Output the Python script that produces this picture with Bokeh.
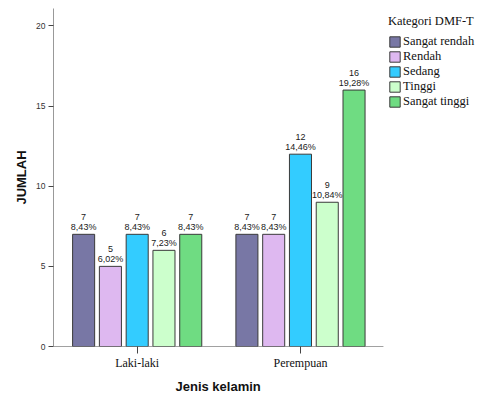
from bokeh.plotting import figure
from bokeh.models import ColumnDataSource, Legend, LegendItem, Range1d, FixedTicker, Title
from bokeh.core.properties import value
from bokeh.embed import file_html
from bokeh.resources import INLINE

# Counts of DMF-T category by sex
groups = ["Laki-laki", "Perempuan"]
categories = ["Sangat rendah", "Rendah", "Sedang", "Tinggi", "Sangat tinggi"]
laki_laki = [7, 5, 7, 6, 7]
perempuan = [7, 7, 12, 9, 16]
colors = ["#7877A5", "#DEB8F0", "#33CCFF", "#CCFFCC", "#6FDC82"]
y_ticks = [0, 5, 10, 15, 20]

counts = [laki_laki, perempuan]
total = sum(laki_laki) + sum(perempuan)

STEP = 0.164   # spacing between bars inside a group
WIDTH = 0.135  # bar width
X_START, X_AXIS_END, X_END = -0.5125, 1.508, 2.127  # axis stops short of the legend area

p = figure(width=484, height=397, output_backend="svg", toolbar_location=None,
           x_range=Range1d(X_START, X_END), y_range=Range1d(0, 21.09),
           min_border_left=53, min_border_right=0, min_border_top=8,
           min_border_bottom=50, outline_line_color=None)
p.grid.visible = False
p.background_fill_color = "white"
p.border_fill_color = "white"

# horizontal axis line, drawn only under the bar area
p.segment(x0=[X_START], y0=[0], x1=[X_AXIS_END], y1=[0], line_color="#444444", line_width=1)

legend_items = []
for ci, cat in enumerate(categories):
    xs = [gi + (ci - 2) * STEP for gi in range(len(groups))]
    ys = [counts[gi][ci] for gi in range(len(groups))]
    labels = [f"{v}\n{v / total * 100:.2f}".replace(".", ",") + "%" for v in ys]
    src = ColumnDataSource(dict(x=xs, top=ys, label=labels))
    r = p.vbar(x="x", top="top", width=WIDTH, bottom=0, source=src,
               fill_color=colors[ci], line_color="#3a3a3a", line_width=1)
    p.text(x="x", y="top", text="label", source=src, text_align="center",
           text_baseline="bottom", y_offset=-2, text_font=value("Liberation Sans"),
           text_font_size="9px", text_color="#1a1a1a", text_line_height=1.0)
    legend_items.append(LegendItem(label=cat, renderers=[r]))

# y axis
ya = p.yaxis[0]
ya.ticker = FixedTicker(ticks=y_ticks)
ya.axis_label = "JUMLAH"
ya.axis_label_text_font = "Liberation Sans"
ya.axis_label_text_font_style = "bold"
ya.axis_label_text_font_size = "13px"
ya.axis_label_text_color = "#111111"
ya.axis_label_standoff = 4
ya.major_label_text_font = "Liberation Sans"
ya.major_label_text_font_size = "8.5px"
ya.major_label_text_color = "#333333"
ya.major_label_standoff = 3
ya.major_tick_in = 0
ya.major_tick_out = 5
ya.minor_tick_line_color = None
ya.axis_line_color = "#999999"
ya.major_tick_line_color = "#444444"

# x axis
xa = p.xaxis[0]
xa.ticker = FixedTicker(ticks=[0, 1])
xa.major_label_overrides = {0: groups[0], 1: groups[1]}
xa.major_label_text_font = "Liberation Serif"
xa.major_label_text_font_size = "12px"
xa.major_label_text_color = "#111111"
xa.major_label_standoff = 2
xa.major_tick_in = 0
xa.major_tick_out = 7
xa.minor_tick_line_color = None
xa.axis_line_color = None
xa.major_tick_line_color = "#444444"

# x axis title, centred under the bar area rather than the whole frame
p.add_layout(Title(text="Jenis kelamin", align="left", offset=122, standoff=8,
                   text_font="Liberation Sans", text_font_style="bold",
                   text_font_size="13px", text_color="#111111"), "below")

legend = Legend(items=legend_items, location=(335, 237),
                title="Kategori DMF-T",
                title_text_font="Liberation Serif", title_text_font_size="12.5px",
                title_text_font_style="normal", title_text_color="#111111",
                title_standoff=5,
                label_text_font="Liberation Serif", label_text_font_size="12.5px",
                label_text_color="#111111",
                glyph_width=13, glyph_height=13, label_height=13,
                label_standoff=2, spacing=-2, padding=0, margin=0,
                border_line_color=None, background_fill_alpha=0)
p.add_layout(legend, "center")

open("out.html", "w").write(file_html(p, INLINE))
